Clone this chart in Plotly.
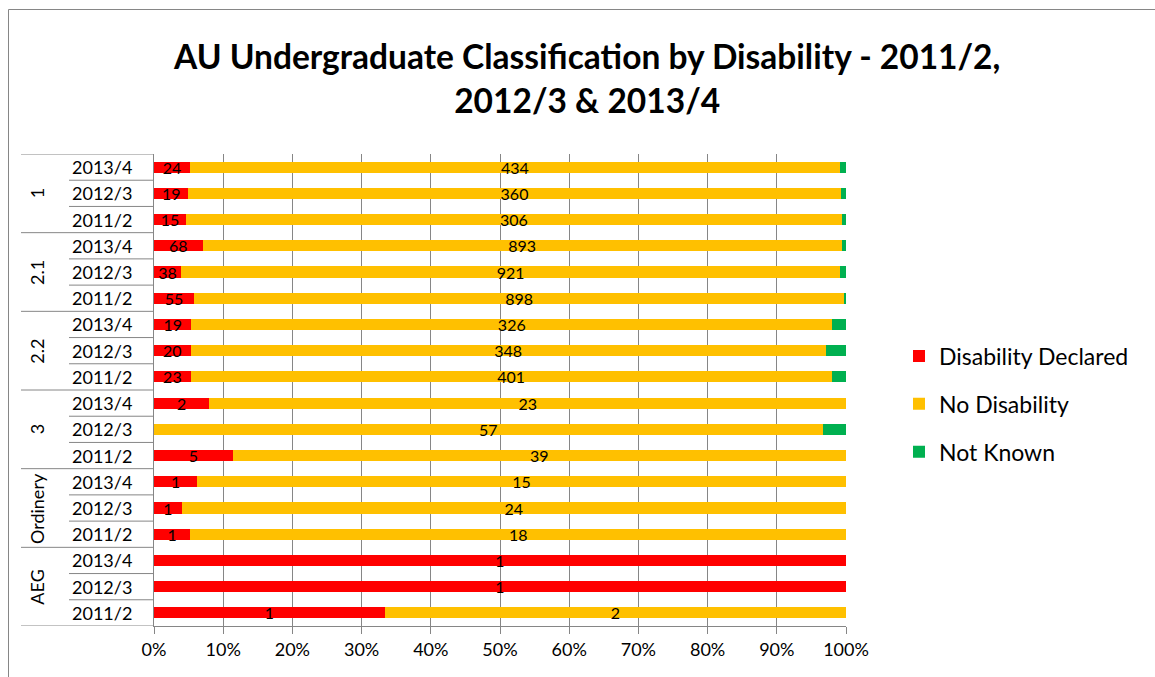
import plotly.graph_objects as go

# Degree classification groups and academic years (top to bottom within each group)
groups = ["1", "2.1", "2.2", "3", "Ordinery", "AEG"]
years = ["2013/4", "2012/3", "2011/2"]

# Student counts per group/year, in the same order as groups x years
disability_declared = [24, 19, 15, 68, 38, 55, 19, 20, 23, 2, 0, 5, 1, 1, 1, 1, 1, 1]
no_disability = [434, 360, 306, 893, 921, 898, 326, 348, 401, 23, 57, 39, 15, 24, 18, 0, 0, 2]
not_known = [4, 3, 2, 6, 8, 2, 7, 11, 9, 0, 2, 0, 0, 0, 0, 0, 0, 0]

x_ticks = [0, 10, 20, 30, 40, 50, 60, 70, 80, 90, 100]

FONT = "Lato"
GRAY = "#868686"
W, H = 1155, 677
L, R, T, B = 154, 846, 154, 626  # plot area in pixels


def px_x(p):
    return (p - L) / (R - L)


def px_y(p):
    return (B - p) / (B - T)


cats = [f"{g}|{y}" for g in groups for y in years]
totals = [a + b + c for a, b, c in zip(disability_declared, no_disability, not_known)]

fig = go.Figure()
series = [
    ("Disability Declared", disability_declared, "#FF0000", True),
    ("No Disability", no_disability, "#FFC000", True),
    ("Not Known", not_known, "#00B050", False),
]
for i, (name, vals, color, labelled) in enumerate(series):
    pct = [v / t * 100 for v, t in zip(vals, totals)]
    labels = [str(v) if (labelled and v > 0) else "" for v in vals]
    fig.add_trace(go.Bar(
        y=cats, x=pct, orientation="h", name=name,
        marker=dict(color=color, line=dict(width=0)),
        text=labels, textposition="inside", insidetextanchor="middle",
        textangle=0, constraintext="none",
        textfont=dict(family=FONT, size=16, color="black"),
        legendgroup=f"g{i}", hoverinfo="skip",
    ))

# Multi-level category labels on the left
annotations = []
for i, c in enumerate(cats):
    annotations.append(dict(
        x=px_x(102), y=i, xref="paper", yref="y", text=c.split("|")[1],
        showarrow=False, xanchor="center", yanchor="middle",
        font=dict(family=FONT, size=18, color="black"),
    ))
for j, g in enumerate(groups):
    annotations.append(dict(
        x=px_x(37), y=3 * j + 1, xref="paper", yref="y", text=g,
        showarrow=False, xanchor="center", yanchor="middle", textangle=-90,
        font=dict(family=FONT, size=18, color="black"),
    ))
annotations.append(dict(
    x=px_x(586), y=px_y(78), xref="paper", yref="paper",
    text="<b>AU Undergraduate Classification by Disability - 2011/2,<br>2012/3 &amp; 2013/4</b>",
    showarrow=False, xanchor="center", yanchor="middle",
    font=dict(family=FONT, size=33.5, color="black"),
))

shapes = []
# separators between categories in the label area
for k in range(len(cats) + 1):
    b = k - 0.5
    x0 = px_x(21) if k % 3 == 0 else px_x(69)
    shapes.append(dict(type="line", xref="paper", yref="y", x0=x0, x1=0, y0=b, y1=b,
                       line=dict(color=GRAY, width=1)))
# chart border
shapes.append(dict(type="rect", xref="paper", yref="paper",
                   x0=px_x(8.5), x1=px_x(1200), y0=px_y(9.5), y1=px_y(720),
                   line=dict(color=GRAY, width=1)))

fig.update_layout(
    width=W, height=H,
    margin=dict(l=L, r=W - R, t=T, b=H - B, pad=0),
    barmode="stack", bargap=0.58,
    plot_bgcolor="white", paper_bgcolor="white",
    font=dict(family=FONT, color="black"),
    showlegend=True,
    legend=dict(
        x=px_x(899), y=px_y(404), xanchor="left", yanchor="middle",
        traceorder="grouped", tracegroupgap=15, itemwidth=30,
        font=dict(family=FONT, size=23, color="black"),
        bgcolor="rgba(0,0,0,0)",
    ),
    xaxis=dict(
        range=[0, 100], tickvals=x_ticks, ticktext=[f"{t}%" for t in x_ticks],
        showgrid=True, gridcolor=GRAY, gridwidth=1, zeroline=False,
        showline=True, linecolor=GRAY, linewidth=1,
        ticks="outside", ticklen=7, tickcolor=GRAY,
        tickfont=dict(family=FONT, size=18, color="black"),
        fixedrange=True,
    ),
    yaxis=dict(
        type="category", categoryorder="array", categoryarray=cats,
        range=[len(cats) - 0.5, -0.5], showticklabels=False,
        showgrid=False, zeroline=False,
        showline=True, linecolor=GRAY, linewidth=1, ticks="",
        fixedrange=True,
    ),
    annotations=annotations, shapes=shapes,
)

fig.write_html("out.html")
